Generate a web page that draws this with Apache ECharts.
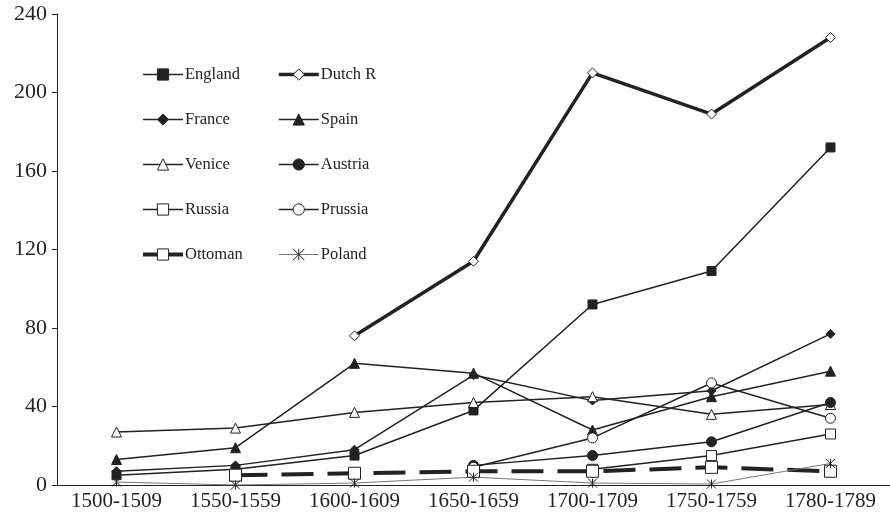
<!DOCTYPE html>
<html>
<head>
<meta charset="utf-8">
<script src="https://cdn.jsdelivr.net/npm/echarts@6/dist/echarts.min.js"></script>
<style>
  html, body { margin: 0; padding: 0; background: #fff; }
  #chart { width: 890px; height: 528px; }
</style>
</head>
<body>
<div id="chart"></div>
<script>
// periods on the x axis
var periods = ["1500-1509", "1550-1559", "1600-1609", "1650-1659", "1700-1709", "1750-1759", "1780-1789"];
var yTicks = [0, 40, 80, 120, 160, 200, 240];

// values (null = no point)
var england = [5, 8, 15, 38, 92, 109, 172];
var dutchR = [null, null, 76, 114, 210, 189, 228];
var france = [7, 10, 18, 56, 43, 48, 77];
var spain = [13, 19, 62, 57, 28, 45, 58];
var venice = [27, 29, 37, 42, 45, 36, 41];
var austria = [null, null, null, 10, 15, 22, 42];
var russia = [null, null, null, null, 8, 15, 26];
var prussia = [null, null, null, 9, 24, 52, 34];
var ottoman = [null, 5, 6, 7, 7, 9, 7];
var poland = [1.5, 0, 1, 4, 1, 0.5, 11];

var ink = "#222";
var serif = "Liberation Serif";
var asterisk = "path://M0,0L10,10M10,0L0,10M5,0L5,10";

function line(name, data, symbol, filled, opts) {
  opts = opts || {};
  return {
    name: name,
    type: "line",
    data: data,
    symbol: symbol,
    symbolSize: opts.size || 9,
    showAllSymbol: true,
    lineStyle: { color: opts.lineColor || ink, width: opts.width || 1.5, type: opts.dash || "solid" },
    itemStyle: {
      color: filled ? ink : "#fff",
      borderColor: ink,
      borderWidth: 1
    },
    z: opts.z || 2
  };
}

var series = [
  line("England", england, "rect", true, { size: 9 }),
  line("Dutch R", dutchR, "diamond", false, { width: 3.5, size: 10 }),
  line("France", france, "diamond", true, { size: 9 }),
  line("Spain", spain, "triangle", true, { size: 10 }),
  line("Venice", venice, "triangle", false, { size: 10 }),
  line("Austria", austria, "circle", true, { size: 10 }),
  line("Russia", russia, "rect", false, { size: 10 }),
  line("Prussia", prussia, "circle", false, { size: 10 }),
  line("Ottoman", ottoman, "rect", false, { width: 4, size: 12, dash: [32, 14] }),
  line("Poland", poland, asterisk, false, { width: 1, size: 9, lineColor: "#777" })
];
series[9].itemStyle = { color: "none", borderColor: ink, borderWidth: 1 };

var col1 = ["England", "France", "Venice", "Russia", { name: "Ottoman", lineStyle: { type: "solid", width: 4 } }];
var col2 = ["Dutch R", "Spain", "Austria", "Prussia", "Poland"];

function legendCol(names, left) {
  return {
    data: names,
    orient: "vertical",
    left: left,
    top: 61,
    itemWidth: 40,
    itemHeight: 14,
    itemGap: 28,
    selectedMode: false,
    lineStyle: { width: "inherit" },
    itemStyle: { borderWidth: "inherit" },
    textStyle: { fontFamily: serif, fontSize: 16.5, color: ink, padding: [0, 0, 0, -3] }
  };
}

var chart = echarts.init(document.getElementById("chart"));
chart.setOption({
  animation: false,
  backgroundColor: "#fff",
  grid: { left: 57, top: 14, width: 840, bottom: 43 },
  legend: [legendCol(col1, 136), legendCol(col2, 272)],
  xAxis: {
    type: "category",
    data: periods,
    boundaryGap: true,
    axisLine: { lineStyle: { color: ink, width: 1 } },
    axisTick: { lineStyle: { color: ink }, length: 5 },
    axisLabel: { fontFamily: serif, fontSize: 21, color: ink, margin: 6, interval: 0 }
  },
  yAxis: {
    type: "value",
    min: yTicks[0],
    max: yTicks[yTicks.length - 1],
    interval: 40,
    splitLine: { show: false },
    axisLine: { show: true, lineStyle: { color: ink, width: 1 } },
    axisTick: { show: true, length: 5, lineStyle: { color: ink } },
    axisLabel: { fontFamily: serif, fontSize: 22, color: ink, margin: 10 }
  },
  series: series
});
</script>
</body>
</html>
